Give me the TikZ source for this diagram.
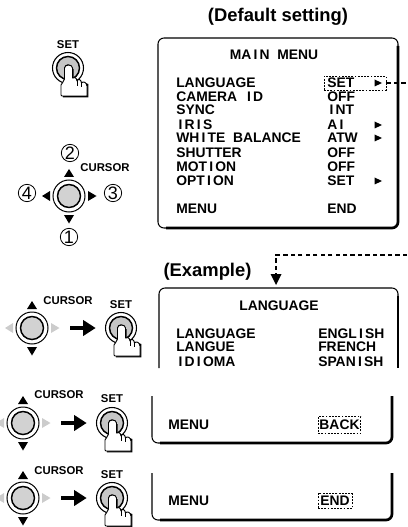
\documentclass[tikz,border=0pt]{standalone}
\usepackage{fontspec}
\setmainfont{Liberation Sans}
\usetikzlibrary{arrows.meta}
\newcommand{\ii}{\kern1.7pt I\kern1.7pt}
\newcommand{\tri}[2]{\fill (#1-3.5,#2-3.5) -- (#1+4,#2) -- (#1-3.5,#2+3.5) -- cycle;}
\tikzset{
  lbl/.style={font=\bfseries\fontsize{8.5}{10}\selectfont,inner sep=0pt,text height=6.2pt,text depth=0pt},
  head/.style={font=\bfseries\fontsize{13.8}{16}\selectfont,inner sep=0pt},
  rowt/.style={font=\bfseries\fontsize{10.4}{12}\selectfont,inner sep=0pt,anchor=west,text height=7.4pt,text depth=0pt},
  rowc/.style={rowt,anchor=center},
  num/.style={circle,draw,line width=.6pt,inner sep=0pt,minimum size=13pt,font=\fontsize{13.5}{13.5}\selectfont},
  dashbox/.style={draw,line width=.7pt,dash pattern=on 1.4pt off 1pt,inner sep=0pt},
  thinedge/.style={line width=.8pt,rounded corners=4.5pt},
  thickedge/.style={line width=2pt,rounded corners=4.5pt},
  blockarrow/.style={line width=3pt,-{Triangle[length=9.5pt,width=11.5pt]},shorten <=28.5pt,shorten >=19pt},
  linkline/.style={line width=.9pt,dash pattern=on 3.2pt off 2.4pt},
  pics/setbtn/.style={code={
    \coordinate (-c) at (0,0);
    \draw[line width=.8pt,fill=white] (0,0) circle (15.5);
    \draw[line width=1.1pt,fill=gray!45] (0,0) circle (11.5);
    \draw[line width=.7pt,fill=white] (0,0) circle (3.2);
    \fill[black] (-2.5,13) -- (-2.5,1) -- (5.5,1) -- (5.5,11) -- (20.3,16) -- (20.3,29.3) -- (-5,29.3) -- (-6,20) -- cycle;
    \draw[line width=.7pt,fill=white,line join=round]
      (-3.5,11) -- (-3.5,0) .. controls (-3.5,-4) and (4.5,-4) .. (4.5,0) -- (4.5,10)
      .. controls (6,8.5) and (8.5,9.5) .. (9,13) .. controls (10,10.5) and (13,11) .. (13.5,15)
      .. controls (15,13) and (18.5,14) .. (19,18) -- (19,28) -- (-6,28) -- (-7,27) -- (-7,17)
      .. controls (-7,15) and (-3.5,14) .. (-3.5,11) -- cycle;
    \draw[line width=.6pt] (9,13) -- (9,18) (13.5,15) -- (13.5,19);
  }},
  pics/cursorbtn/.style={code={
    \coordinate (-c) at (0,0);
    \draw[line width=.75pt,fill=white] (0,0) circle (16);
    \draw[line width=1.1pt,fill=gray!35] (0,0) circle (11.5);
    \fill[black] (0,-27) -- (5,-19) -- (-5,-19) -- cycle;
    \fill[black] (0,27.5) -- (5,19) -- (-5,19) -- cycle;
    \fill[#1] (-27,0) -- (-19,-5) -- (-19,5) -- cycle;
    \fill[#1] (27.5,0) -- (19,-5) -- (19,5) -- cycle;
  }}
}
\begin{document}
\begin{tikzpicture}[x=.75pt,y=-.75pt]
\useasboundingbox (0,0) rectangle (407,527);
% left column, first group
\node[lbl] (setA) at (68,44) {SET};
\pic (sA) at (68,68) {setbtn};
\node[num] (n2) at (70,153) {2};
\node[num] (n1) at (69,237) {1};
\node[num] (n3) at (113,193) {3};
\node[num] (n4) at (27,193) {4};
\pic (cA) at (69,196) {cursorbtn=black};
\node[lbl] (curA) at (105,167) {CURSOR};
% steps
\pic (cB) at (32,328) {cursorbtn={gray!40}};
\node[lbl] (curB) at (68,300) {CURSOR};
\node[lbl] (setB) at (121,304) {SET};
\pic (sB) at (121,328) {setbtn};
\draw[blockarrow] (cB-c) -- (sB-c);
\pic (cC) at (23,423) {cursorbtn={gray!40}};
\node[lbl] (curC) at (59,394) {CURSOR};
\node[lbl] (setC) at (112,398) {SET};
\pic (sC) at (112,423) {setbtn};
\draw[blockarrow] (cC-c) -- (sC-c);
\pic (cD) at (23,498) {cursorbtn={gray!40}};
\node[lbl] (curD) at (59,470) {CURSOR};
\node[lbl] (setD) at (112,474) {SET};
\pic (sD) at (112,498) {setbtn};
\draw[blockarrow] (cD-c) -- (sD-c);
% headings
\node[head] (hdefault) at (278,17) {(Default setting)};
\node[head] (hexample) at (207.5,272) {(Example)};
% main menu
\draw[thinedge] (170,228) -- (158,228) -- (158,38) -- (398,38) -- (398,50);
\draw[thickedge] (398,46) -- (398,228) -- (166,228);
\node[rowc] (mtitle) at (274,55) {MA\ii N\ \ MENU};
\foreach \n/\y/\a/\b in {r1/83/LANGUAGE/SET,r2/97/CAMERA\ \ \ii D/OFF,r3/110/SYNC/\ii NT,r4/125/\ii R\ii S/A\ii,r5/138/WH\ii TE\ \ BALANCE/ATW,r6/153/SHUTTER/OFF,r7/167/MOT\ii ON/OFF,r8/181/OPT\ii ON/SET,r9/209/MENU/END}{
  \node[rowt] (\n a) at (176,\y) {\a};
  \node[rowt] (\n b) at (327,\y) {\b};
}
\tri{378}{83}\tri{378}{125}\tri{378}{138}\tri{378}{181}
\node[dashbox,minimum width=46.5pt,minimum height=10.5pt] (sel) at (355,83) {};
% link
\coordinate (exitA) at (407,83);
\coordinate (exitB) at (407,255);
\coordinate (bend) at (276,255);
\coordinate (tipL) at (276,285);
\draw[linkline] (sel.east) -- (exitA);
\draw[linkline] (exitB) -- (bend) -- (276,274);
\fill (270.5,274) -- (281.5,274) -- (tipL) -- cycle;
% language
\draw[thinedge] (159,368) -- (159,288) -- (398,288) -- (398,300);
\draw[thickedge] (398,296) -- (398,368);
\node[rowc] (ltitle) at (279,306) {LANGUAGE};
\foreach \n/\y/\a/\b in {l1/334/LANGUAGE/ENGL\ii SH,l2/347/LANGUE/FRENCH,l3/362/\ii D\ii OMA/SPAN\ii SH}{
  \node[rowt] (\n a) at (176,\y) {\a};
  \node[rowt] (\n b) at (318,\y) {\b};
}
% back
\draw[thinedge] (152,396) -- (152,443) -- (170,443);
\draw[thickedge] (392,396) -- (392,443) -- (160,443);
\node[rowt] (bm) at (168,425) {MENU};
\node[rowc,dashbox,minimum width=32pt,minimum height=12.5pt] (bb) at (339.5,425) {BACK};
% end
\draw[thinedge] (152,473) -- (152,520) -- (170,520);
\draw[thickedge] (392,473) -- (392,520) -- (160,520);
\node[rowt] (em) at (168,501) {MENU};
\node[rowc,dashbox,minimum width=25.5pt,minimum height=11.5pt] (eb) at (335,501) {END};
\end{tikzpicture}
\end{document}
